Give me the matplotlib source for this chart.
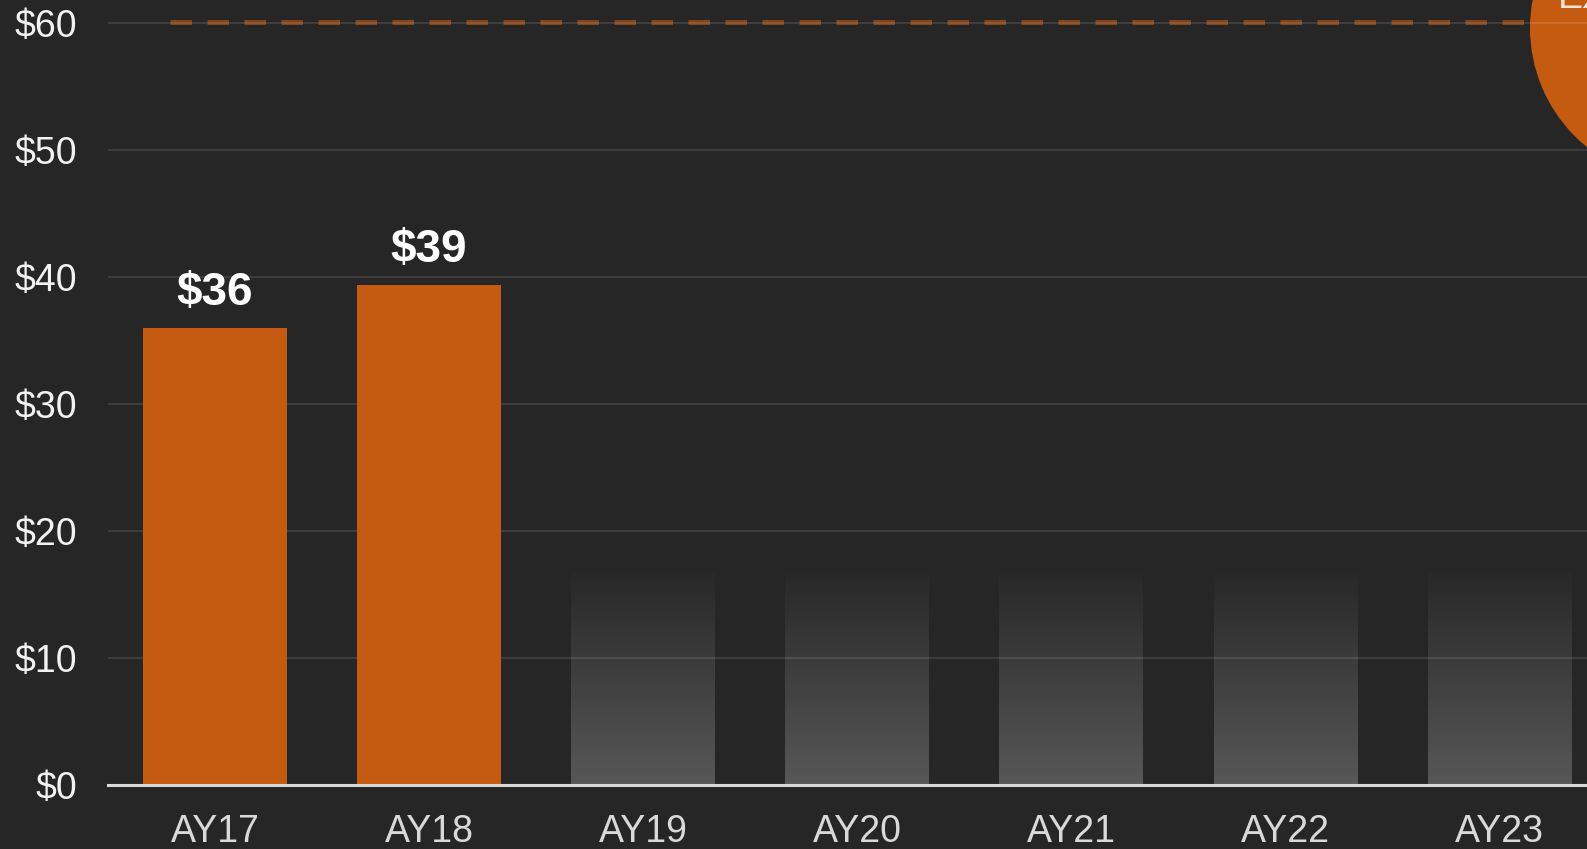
import numpy as np
import matplotlib
matplotlib.use("Agg")
import matplotlib.pyplot as plt
from matplotlib.patches import Ellipse

# ---- data ----
categories = ["AY17", "AY18", "AY19", "AY20", "AY21", "AY22", "AY23"]
actual_values = [36.0, 39.4]
future_values = [16.8, 16.8, 16.8, 16.8, 16.8]
target_value = 60.1
y_ticks = [0, 10, 20, 30, 40, 50, 60]
y_tick_labels = ["$0", "$10", "$20", "$30", "$40", "$50", "$60"]
badge_text = "EXPECTED"

BG = "#262626"
ORANGE = "#c55a11"

plt.rcParams["font.family"] = ["Liberation Sans", "DejaVu Sans"]

W, H, DPI = 1587, 849, 100
fig = plt.figure(figsize=(W / DPI, H / DPI), dpi=DPI, facecolor=BG)
ax = fig.add_axes([108 / W, 64 / H, 1 - 108 / W, 1 - 64 / H])
ax.set_facecolor(BG)

x = np.arange(len(categories))
bar_w = 0.67

# orange bars (actual)
act_x = x[:len(actual_values)]
bars = ax.bar(act_x, actual_values, width=bar_w, color=ORANGE, zorder=3)
for b, v in zip(bars, actual_values):
    ax.annotate(f"${v:.0f}", xy=(b.get_x() + b.get_width() / 2, v),
                xytext=(0, 16.5), textcoords="offset points",
                ha="center", va="baseline", fontsize=33, fontweight="bold",
                color="white", zorder=5)

# gradient placeholder bars (future)
fut_x = x[len(actual_values):]
fbars = ax.bar(fut_x, future_values, width=bar_w, color="none",
               edgecolor="none", zorder=1)
grad = np.zeros((256, 2, 4))
grad[..., :3] = 1.0
alpha = np.linspace(0.23, 0.01, 256)  # row 0 = bottom with origin='lower'
grad[..., 3] = alpha[:, None]
for b in fbars:
    im = ax.imshow(grad, extent=[b.get_x(), b.get_x() + b.get_width(),
                                 0, b.get_height()],
                   origin="lower", aspect="auto", interpolation="bilinear",
                   zorder=1)
    im.set_clip_path(b)

# target dashed line
ax.hlines(target_value, -0.21, len(categories) + 1, colors=ORANGE, alpha=0.58,
          linewidth=3.6, linestyles=(0, (4.3, 3.1)), zorder=2.5)

# axes styling
ax.set_xlim(-0.5, 6.41)
ax.set_ylim(0, 61.81)
ax.set_yticks(y_ticks)
ax.set_yticklabels(y_tick_labels)
ax.set_xticks(x)
ax.set_xticklabels(categories)
ax.tick_params(axis="y", length=0, pad=22, labelsize=27, labelcolor="#f2f2f2")
ax.tick_params(axis="x", length=0, pad=21, labelsize=27, labelcolor="#d9d9d9")
ax.grid(axis="y", color="white", alpha=0.11, linewidth=1.5, zorder=2)
ax.set_axisbelow(False)
for gl in ax.get_ygridlines():
    gl.set_zorder(2)
for s in ["top", "right", "left"]:
    ax.spines[s].set_visible(False)
ax.spines["bottom"].set_color("#d9d9d9")
ax.spines["bottom"].set_linewidth(2.2)
ax.spines["bottom"].set_zorder(4)

# badge circle at top right (partially outside figure)
cx, cy, r = 1683, 28, 153
circ = Ellipse((cx / W, 1 - cy / H), 2 * r / W, 2 * r / H,
               transform=fig.transFigure, facecolor=ORANGE, edgecolor="none",
               zorder=1.5, clip_on=False)
ax.add_artist(circ)
fig.text(1558 / W, 1 - 8 / H, badge_text, ha="left", va="baseline",
         fontsize=27, color="#fbe5d6", zorder=6)

fig.savefig("out.png", dpi=DPI, facecolor=BG)
